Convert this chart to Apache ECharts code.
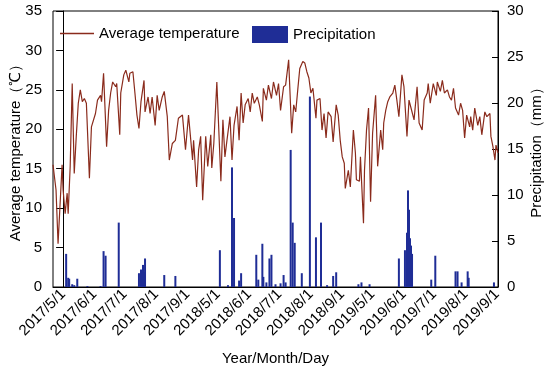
<!DOCTYPE html>
<html>
<head>
<meta charset="utf-8">
<script src="https://cdn.jsdelivr.net/npm/echarts@6/dist/echarts.min.js"></script>
<style>html,body{margin:0;padding:0;background:#fff}#c{width:550px;height:369px}</style>
</head>
<body>
<div id="c"></div>
<script>
// day index along the growing-season sequence (May 1 - Sep 30 of each year, 2017/5/1 = 0)
const tickDay = [0, 31, 61, 92, 123, 153, 184, 214, 245, 276, 306, 337, 367, 398, 429];
const tickLabel = ['2017/5/1','2017/6/1','2017/7/1','2017/8/1','2017/9/1','2018/5/1','2018/6/1','2018/7/1','2018/8/1','2018/9/1','2019/5/1','2019/6/1','2019/7/1','2019/8/1','2019/9/1'];

const tempDay = [-10,-7,-5,-1,0,2,4,5,7,9,11,13,15,17,19,21,23,26,28,32,34,37,38,40,43,45,47,49,52,53,56,57,60,62,65,66,69,71,73,75,77,80,81,84,86,88,91,93,95,98,100,103,105,
 108,111,114,118,121,124,128,129,132,134,136,138,141,143,146,147,149,152,156,158,160,162,165,167,169,172,174,176,178,180,183,185,187,189,192,194,197,198,201,203,206,208,211,213,215,218,220,223,226,
 228,230,232,234,237,239,241,243,245,247,250,251,254,256,258,260,262,265,267,270,272,274,276,278,279,282,284,287,289,290,293,294,297,298,300,302,304,306,309,311,314,316,317,319,321,323,326,328,330,332,335,337,340,342,344,347,350,352,
 355,357,360,361,363,364,366,369,370,373,375,377,380,382,384,386,388,391,393,395,397,399,402,403,405,407,410,412,414,417,419,422,423,425,427,428,430];
const tempVal = [15.5,12.3,5.5,15.5,12.3,9.3,11.9,9.3,15.3,25.8,14.4,19.1,23.3,25.0,23.5,23.9,23.3,13.8,20.3,22.0,23.7,24.3,23.5,27.1,17.8,22.4,24.6,26.0,25.4,25.8,19.3,24.6,26.9,27.5,26.0,27.1,27.3,24.6,21.8,20.1,23.5,26.2,22.2,24.1,22.0,24.1,20.5,24.3,22.4,24.1,24.8,21.6,16.1,
 18.2,18.6,21.4,21.8,17.4,21.8,16.1,18.6,12.7,17.4,19.1,11.0,19.1,15.3,19.3,15.1,18.2,26.0,13.4,21.2,16.5,18.6,21.6,16.1,20.5,22.9,18.6,24.6,20.8,23.1,23.9,22.2,24.6,23.3,24.1,23.1,21.0,25.2,23.7,25.6,23.9,26.0,24.3,25.8,22.4,25.4,25.6,28.8,19.5,
 23.1,22.2,25.0,27.7,28.6,28.4,27.3,26.5,24.6,25.2,21.4,23.7,23.9,19.9,22.0,18.9,22.2,21.6,18.4,23.1,21.8,18.6,16.5,15.7,12.5,14.8,12.7,19.9,17.0,13.6,13.4,16.5,8.1,14.8,19.9,22.7,10.8,19.5,24.3,15.3,19.9,17.4,20.8,22.4,23.5,24.1,24.6,25.6,23.7,21.6,26.9,25.4,19.1,23.7,22.7,21.2,25.4,20.8,
 19.9,23.7,24.6,25.8,23.3,23.3,25.8,24.3,26.0,24.8,26.2,24.6,25.0,24.1,23.7,25.2,22.7,21.8,23.3,22.4,18.9,21.8,20.3,21.6,19.9,22.7,20.5,21.6,19.3,22.2,21.6,22.0,19.1,17.8,16.1,18.0,17.0];

const rainDay = [3,5,6,9,11,14,24,37,40,42,55,75,77,79,80,81,100,111,155,163,167,169,174,176,191,193,197,198,201,204,206,210,215,218,220,225,227,229,236,244,250,255,261,267,270,292,295,303,332,338,340,341,342,343,344,345,364,368,388,390,394,400,401,426];
const rainVal = [3.6,1.0,0.9,0.3,0.2,0.9,0.1,0.1,3.9,3.4,7.0,1.5,1.9,2.4,1.6,3.1,1.3,1.2,4.0,0.2,13.0,7.5,0.7,1.5,3.5,0.8,4.7,1.1,0.5,3.1,3.5,0.3,0.4,1.3,0.5,14.9,7.0,4.8,1.5,20.7,5.4,7.0,0.2,1.2,1.6,0.3,0.5,0.3,3.1,4.0,5.9,10.5,8.4,5.3,4.5,3.6,0.8,3.4,1.7,1.7,0.5,1.7,1.0,0.5];

const FONT = 'Liberation Sans, Arial, sans-serif';
const LINE_COLOR = '#8a2b1c';
const BAR_COLOR = '#1f2d96';

const chart = echarts.init(document.getElementById('c'), null, {renderer: 'canvas'});
chart.setOption({
  animation: false,
  textStyle: {fontFamily: FONT, color: '#000'},
  grid: {left: 53, right: 52, top: 11, bottom: 82, show: true, borderColor: '#000', borderWidth: 1, containLabel: false, outerBoundsMode: 'none'},
  legend: [
    {data: ['Average temperature'], left: 60, top: 26, padding: 0, itemWidth: 34, itemHeight: 1.5, icon: 'rect',
     textStyle: {fontSize: 15, color: '#000', fontFamily: FONT}},
    {data: ['Precipitation'], left: 252, top: 26, padding: 0, itemWidth: 36, itemHeight: 17, icon: 'rect',
     textStyle: {fontSize: 15, color: '#000', fontFamily: FONT}}
  ],
  xAxis: {
    type: 'value', min: -10, max: 430,
    name: 'Year/Month/Day', nameLocation: 'middle', nameGap: 64, nameMoveOverlap: false,
    nameTextStyle: {fontSize: 15, color: '#000', fontFamily: FONT},
    axisLine: {show: true, lineStyle: {color: '#000', width: 1}},
    axisTick: {show: false},
    splitLine: {show: false},
    axisLabel: {
      customValues: tickDay, rotate: 45, margin: 5, fontSize: 15, color: '#000', fontFamily: FONT,
      formatter: function (v) { const i = tickDay.indexOf(v); return i >= 0 ? tickLabel[i] : ''; }
    }
  },
  yAxis: [
    {type: 'value', min: 0, max: 35, interval: 5, position: 'left',
     name: 'Average temperature（℃）', nameLocation: 'middle', nameGap: 30, nameMoveOverlap: false,
     nameTextStyle: {fontSize: 15, color: '#000', fontFamily: FONT},
     axisLine: {show: true, lineStyle: {color: '#000', width: 1}},
     axisTick: {show: true, inside: false, length: 7, lineStyle: {color: '#000'}},
     axisLabel: {margin: 11, fontSize: 15, color: '#000', fontFamily: FONT},
     splitLine: {show: false}},
    {type: 'value', min: 0, max: 30, interval: 5, position: 'right',
     name: 'Precipitation（mm）', nameLocation: 'middle', nameGap: 31, nameMoveOverlap: false,
     nameTextStyle: {fontSize: 15, color: '#000', fontFamily: FONT},
     axisLine: {show: true, lineStyle: {color: '#000', width: 1}},
     axisTick: {show: true, inside: true, length: 6, lineStyle: {color: '#000'}},
     axisLabel: {margin: 9, fontSize: 15, color: '#000', fontFamily: FONT},
     splitLine: {show: false}}
  ],
  series: [
    {name: 'Precipitation', type: 'bar', yAxisIndex: 1, barWidth: 2,
     itemStyle: {color: BAR_COLOR},
     data: rainDay.map((d, i) => [d, rainVal[i]])},
    {name: 'Average temperature', type: 'line', yAxisIndex: 0, symbol: 'none', showSymbol: false,
     lineStyle: {color: LINE_COLOR, width: 1.2}, itemStyle: {color: LINE_COLOR}, z: 3,
     data: tempDay.map((d, i) => [d, tempVal[i]])}
  ]
});
</script>
</body>
</html>
